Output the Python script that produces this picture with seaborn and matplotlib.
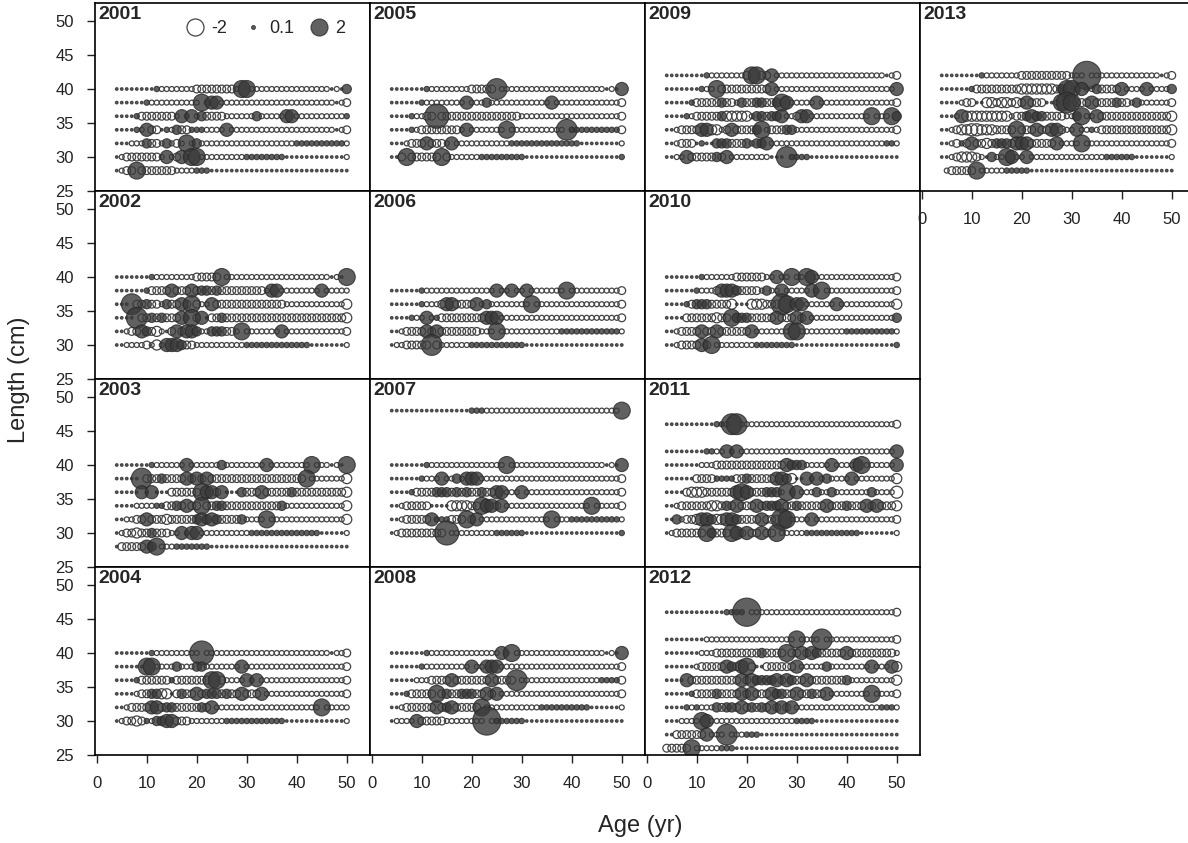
import matplotlib
matplotlib.use("Agg")
import matplotlib.pyplot as plt
from matplotlib.lines import Line2D
import numpy as np
import pandas as pd
import seaborn as sns

# bubble codes -> residual value
CODES = {'.': 0.05, 's': 0.2, 'o': -0.17, 'O': -0.42, 'Q': -0.7, 'U': -1.0,
         'a': 0.6, 'b': 1.2, 'c': 2.0, 'd': 3.0, 'e': 4.0, 'f': 5.5}

# each row: "start-age code ..." runs | single-age bubbles
Y2001 = {
    40: "4. 12o 20O 28o 47. 48o 49. 50a | 12s 29c 30c",
    38: "4. 10o 25o 48. 49o 50O | 10s 21c 23b 24b",
    36: "4. 9O 16o 22O 26o 50s | 8s 17b 19b 21a 32a 38b 39b",
    34: "4. 8o 11O 13. 15o 17O 22o 48. 49o 50O | 8s 10b 14s 16a 19s 20s 21s 26b",
    32: "4. 7o 11O 13o 16O 17o 40s 50o | 10a 14a 18c 20a",
    30: "4. 5o 6O 13o 16O 17o 30s 38. 50o | 14b 17b 19c 20c",
    28: "4. 5o 6O 16o 20s 23. | 8c",
}
Y2002 = {
    40: "4. 12o 20O 25o 47. 48o 49. | 11s 25c 50c",
    38: "4. 11O 34o | 10s 15b 19b 21a 22a 24a 35b 36b 45b",
    36: "4. 8O 13o 14O 21o 23O 38o 50Q | 7d 10a 14a 17b 19c 23b",
    34: "4. 9O 50Q | 8d 11a 13a 17b 18o 19c 21b 22. 25a",
    32: "4. 6o 7O 13o 14. 15O 21o 26O 28o 50O | 9b 10a 12Q 16b 18b 19b 20a 23a 24a 25a 29c 37b",
    30: "4. 6o 10O 11o 18O 20o 30s 43. 50o | 12Q 14b 15b 16b 17a",
}
Y2003 = {
    40: "4. 12o 47. 48o 49. | 11s 18b 25a 34b 43c 50c",
    38: "4. 10O 43o 50Q | 9d 13a 18b 20b 22b 42c",
    36: "4. 12. 15O 26. 29O 50Q | 9b 11b 21c 22b 23b 25b 29a 33b 39a",
    34: "4. 8o 12s 14O 37o 50Q | 16a 18b 21c 24a 25a 37a",
    32: "4. 6o 8O 30o 50Q | 10b 14Q 20a 21b 22a 23b 24a 29a 34c",
    30: "4. 5o 6O 8Q 9O 15o 31s 45. 50o | 11a 17b 19b 20b",
    28: "4. 5O 13o 16s 23. | 10b 11a 12c",
}
Y2004 = {
    40: "4. 12o 47. 48o 50O | 11s 21e",
    38: "4. 12o 50O | 10c 11c 16a 20a 21a 29b",
    36: "4. 9O 26o 50O | 8s 15s 23c 24c 30b 32b",
    34: "4. 8o 9O 13Q 15. 16O 34o 50O | 11a 12a 17a 20b 22a 23a 24a 26a 29b 33b",
    32: "4. 6o 7O 24o 50o | 11b 12b 14a 15a 21a 23b 45c",
    30: "4. 5o 6O 8Q 9O 11o 16O 19o 26s 38. 50o | 10s 12a 13a 14b 15b",
}
Y2005 = {
    40: "4. 12o 20O 26o 47. 48o 49. 50b | 11s 25d",
    38: "4. 11o 50O | 10s 19b 23a 36b",
    36: "4. 9o 11O 30o 50O | 8s 13e",
    34: "4. 9o 10O 18o 40s 50O | 8s 19b 27c 39d",
    32: "4. 7o 8O 15o 28s 42. 50o | 11b 16b",
    30: "4. 6O 16o 22s 31. 50s | 7c 14c",
}
Y2006 = {
    38: "4. 11o 50O | 10s 25b 28b 31b 39c",
    36: "4. 11o 14O 22o 50O | 10s 15b 16b 21b 23a 32c",
    34: "4. 9o 14O 26o 50O | 8s 11b 13s 23b 24b 25b",
    32: "4. 6o 7O 22o 38s 50o | 11b 13b 25c",
    30: "4. 5o 7O 14o 20s 31. | 12d",
}
Y2007 = {
    48: "4. 20s 23o 50c",
    40: "4. 12o 47. 48o 49. 50b | 11s 27c",
    38: "4. 11o 50O | 10s 14b 17a 19b 20b 21b",
    36: "4. 9O 26o 50O | 8s 13a 14a 15a 17a 19a 22a 25b 26b 30b",
    34: "4. 6o 7O 12. 16Q 20O 27o 50O | 22c 23b 24b 26b 44c",
    32: "4. 6o 7O 13s 16O 22o 40s 50o | 12b 19c 21b 36c",
    30: "4. 5o 6O 16o 25s 31. 50s | 15e",
}
Y2008 = {
    40: "4. 12o 47. 48o 49. 50b | 11s 26b 28c",
    38: "4. 11o 50O | 10s 20b 23b 24b 25b",
    36: "4. 9o 12O 22O 30o 46s 50O | 16b 24b 29d",
    34: "4. 7s 8O 26o 50O | 13c 15a 18a 19a 20a 23b 25b",
    32: "4. 6o 7O 23o 34s 44. 50o | 13b 15a 16b 22c",
    30: "4. 5o 9O 15o 25s 31. | 9b 23f",
}
Y2009 = {
    42: "4. 13o 20O 26o 48. 49o 50O | 12s 21c 22c 25b",
    40: "4. 12o 15O 26o 50b | 11s 14c 25b",
    38: "4. 10O 18o 20O 29o 50O | 9s 15a 19a 22a 23a 26a 27c 28b 34b",
    36: "4. 9o 10O 16Q 21o 24O 28o 30O 31o 50a | 8s 15a 22a 23a 25a 26a 27b 31b 32b 45c 49c",
    34: "4. 6o 7O 13Q 15o 16O 24o 25O 30o 50O | 11b 12b 17b 22a 23c 28a 29a",
    32: "4. 6o 7O 10. 14a 17O 21o 25o 48s 50o | 11s 20a 22a 23a 24b",
    30: "4. 6o 9O 17o 25. 29s 33. | 8b 14a 16b 28d",
}
Y2010 = {
    40: "4. 12o 18O 24o 50O | 11s 26b 29c 32c 33b",
    38: "4. 11o 14O 23o 50O | 10s 15b 16b 17b 18a 24a 27b 33b 35c",
    36: "4. 9O 18. 21Q 24O 29o 50Q | 8s 10a 11a 12a 17Q 27d 28c 30b 31b 38b",
    34: "4. 8O 21O 33o | 14Q 17c 18a 19a 20a 26b 30b 32b 50a",
    32: "4. 6o 7O 22o 40s 50o | 11b 14b 21b 29c 30c",
    30: "4. 6o 7O 14o 22s 30. 50s | 11b 13c",
}
Y2011 = {
    46: "4. 14s 16o 50O | 17d 18d",
    42: "4. 12s 14o 50b | 16b 18b",
    40: "4. 11o 14O 30o | 28b 29a 30a 31a 37b 42b 43c 50b",
    38: "4. 10O 14s 18O 29Q 30. 33o 42o 50Q | 20a 26b 27b 28a 32b 34b 36a 41b",
    36: "4. 8O 9Q 12O 24o 50U | 18b 19c 20b 24a 25a 26a 28c 30b 34a 37a 45a",
    34: "4. 6o 7O 13Q 15O 50Q | 16a 18b 22b 24a 25a 26a 27b 30a 36b 40a 44b 46b",
    32: "4. 7o 8O 10Q 14Q 17O 29o 50O | 6a 11b 12b 13a 16b 17b 18a 23b 27d 28c 33b",
    30: "4. 5o 6O 14O 27o 32s 43. 50o | 12c 13a 17c 18b 20b 23b 26c",
}
Y2012 = {
    46: "4. 16s 21o 50O | 20f",
    42: "4. 12o 50O | 30c 35d",
    40: "4. 11o 14O 50o | 23a 28c 31b 33b 34a 40b",
    38: "4. 10o 11O 22. 24O 31o 50Q | 16b 17a 19b 20c 30b 36a 45b 49b",
    36: "4. 9O 16O 33O 41o 50Q | 8b 19b 21b 22a 23a 24a 25a 26b 28b 29a 32b 40a",
    34: "4. 10O 22O 37o 50O | 9s 14a 19b 21b 25b 26a 27a 30b 33a 36b 45c",
    32: "4. 9o 14O 30o 47s 50o | 8s 10s 14a 16a 17a 19b 21a 23a 25b 27b 29b",
    30: "4. 7o 13o 30s 34. | 11c 12b",
    28: "4. 6O 13o 17o 20s 23. | 12b 16d",
    26: "4O 10o 15s 18. | 9c",
}
Y2013 = {
    42: "4. 13o 20O 30o 48. 49o 50O | 12s 33f",
    40: "4. 11O 20Q 27O 31o 36O 41o 50a | 10s 28a 29c 30c 32b 35a 40b 45b",
    38: "4. 8o 9O 13Q 20O 25. 27o 30O 42o 50O | 11. 12. 15O 18O 21b 28c 29d 30c 34b 39a 43a",
    36: "4. 7o 9Q 18o 19O 29o 36O 50Q | 8b 21a 22b 23a 24a 31a 32c 35b",
    34: "4. 6o 7O 8Q 10U 12Q 15O 29o 36O 50Q | 19c 23b 26b 27b 31b 34s",
    32: "4. 6o 7O 11O 13Q 14O 22O 28o 50O | 8s 10b 15a 16a 17a 19b 20b 21b 27b 32c",
    30: "4. 6o 7O 8Q 11O 12o 13. 14o 37s 43. 50o | 14a 17c 18b 21b",
    28: "5o 6O 10O 12o 17s 22. | 11c",
}

YEARS = ["2001", "2002", "2003", "2004", "2005", "2006", "2007",
         "2008", "2009", "2010", "2011", "2012", "2013"]
ROWS = [Y2001, Y2002, Y2003, Y2004, Y2005, Y2006, Y2007,
        Y2008, Y2009, Y2010, Y2011, Y2012, Y2013]

LEGEND_VALUES = [-2, 0.1, 2]


def expand(rows):
    out = []
    for length, spec in rows.items():
        runs, _, single = spec.partition('|')
        runs = [(int(t[:-1]), t[-1]) for t in runs.split()]
        vals = {}
        for i, (a0, code) in enumerate(runs):
            a1 = runs[i + 1][0] if i + 1 < len(runs) else 51
            for a in range(a0, a1):
                vals[a] = CODES[code]
        for t in single.split():
            vals[int(t[:-1])] = CODES[t[-1]]
        for a, r in vals.items():
            out.append((a, length, r))
    df = pd.DataFrame(out, columns=['age', 'length', 'resid'])
    df['mag'] = df['resid'].abs()
    return df


sns.set_style("ticks")
plt.rcParams['font.family'] = ['Liberation Sans', 'DejaVu Sans']

W, H = 1188, 843
fig = plt.figure(figsize=(W / 100, H / 100), dpi=100)

FILL = '#3a3a3a'
EDGE = '#2a2a2a'
AREA = 75.0  # points^2 per unit residual

for idx, (year, rows) in enumerate(zip(YEARS, ROWS)):
    col, row = idx // 4, idx % 4
    left = 95 + 275 * col
    top = 3 + 188 * row
    ax = fig.add_axes([left / W, 1 - (top + 188) / H, 275 / W, 188 / H])
    df = expand(rows)
    neg = df[df['resid'] < 0]
    pos = df[df['resid'] >= 0]
    sns.scatterplot(data=neg, x='age', y='length', size='mag', sizes=(0, AREA * 6),
                    size_norm=(0, 6), facecolor='none', edgecolor='#444444',
                    linewidth=0.9, legend=False, ax=ax)
    sns.scatterplot(data=pos, x='age', y='length', size='mag', sizes=(0, AREA * 6),
                    size_norm=(0, 6), color=FILL, alpha=0.8, edgecolor=EDGE,
                    linewidth=0.8, legend=False, ax=ax)
    ax.set_xlim(-0.35, 54.65)
    ax.set_ylim(25, 52.65)
    ax.set_xticks([0, 10, 20, 30, 40, 50])
    ax.set_yticks([25, 30, 35, 40, 45, 50])
    ax.set_xlabel('')
    ax.set_ylabel('')
    for s in ax.spines.values():
        s.set_visible(True)
        s.set_linewidth(1.2)
        s.set_color('black')
    ax.tick_params(direction='out', length=6, width=1, labelsize=12, colors='#222222')
    ax.tick_params(axis='x', pad=9)
    ax.tick_params(axis='y', pad=9)
    if col != 0:
        ax.tick_params(left=False, labelleft=False)
    if not (row == 3 or year == "2013"):
        ax.tick_params(bottom=False, labelbottom=False)
    ax.text(0.012, 0.985, year, transform=ax.transAxes, ha='left', va='top',
            fontsize=14, fontweight='bold')

    if year == "2001":
        handles = []
        for v in LEGEND_VALUES:
            ms = np.sqrt(AREA * abs(v))
            if v < 0:
                h = Line2D([], [], ls='', marker='o', markersize=ms, markerfacecolor='none',
                           markeredgecolor='#444444', markeredgewidth=0.9)
            else:
                h = Line2D([], [], ls='', marker='o', markersize=ms, markerfacecolor=FILL,
                           markeredgecolor=EDGE, markeredgewidth=0.8, alpha=0.8)
            handles.append(h)
        ax.legend(handles, [str(v) for v in LEGEND_VALUES], ncol=3, loc='upper right',
                  bbox_to_anchor=(0.97, 0.995), frameon=False, fontsize=13,
                  handlelength=1.0, handletextpad=0.4, columnspacing=0.9)

fig.text(0.016, 0.55, 'Length (cm)', rotation=90, ha='center', va='center', fontsize=17)
fig.text(0.539, 0.02, 'Age (yr)', ha='center', va='center', fontsize=17)

fig.savefig('out.png', dpi=100)
